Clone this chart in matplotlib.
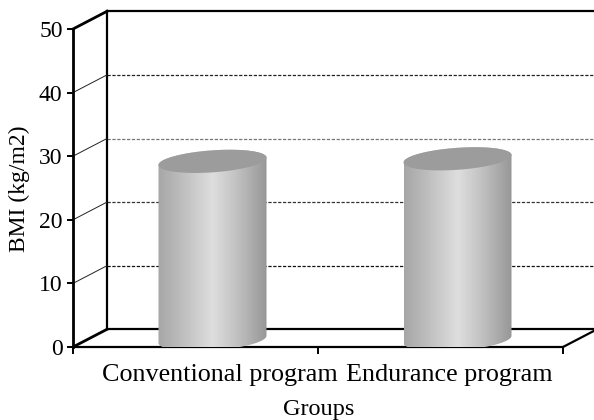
import numpy as np
import matplotlib
matplotlib.use("Agg")
import matplotlib.pyplot as plt
from matplotlib.colors import LinearSegmentedColormap
from matplotlib.patches import Polygon

categories = ["Conventional program", "Endurance program"]
bmi_values = [28.0, 28.4]
y_ticks = [0, 10, 20, 30, 40, 50]
grid_values = [10, 20, 30, 40]
grid_colors = ["#111111", "#333333", "#777777", "#222222"]

W, H = 594, 420
plt.rcParams["font.family"] = ["Liberation Serif", "DejaVu Serif"]
fig = plt.figure(figsize=(W / 100, H / 100), dpi=100)
L, R, T, B = 73, 563, 29, 347
ax = fig.add_axes([L / W, 1 - B / H, (R - L) / W, (B - T) / H])
ax.set_xlim(0, 2)
ax.set_ylim(0, 50)
px = 2 / (R - L)          # data x per pixel
py = 50 / (B - T)         # data y per pixel
dx, dy = 34 * px, 17.7 * py
xmax = dx + 2 + 31 * px

for s in ax.spines.values():
    s.set_visible(False)
ax.patch.set_alpha(0)

# back wall, floor and grid
ax.plot([dx, dx], [dy, 50 + dy], color="k", lw=1.6, clip_on=False, zorder=2)
ax.plot([dx, xmax], [50 + dy, 50 + dy], color="k", lw=1.6, clip_on=False, zorder=2)
ax.plot([dx, xmax], [dy, dy], color="k", lw=1.6, clip_on=False, zorder=2)
for v, c in zip(grid_values, grid_colors):
    ax.plot([dx, xmax], [v + dy, v + dy], color=c, lw=0.9, ls=(0, (2.6, 1.3)),
            clip_on=False, zorder=1)
    ax.plot([0, dx], [v, v + dy], color="#222222", lw=0.7, clip_on=False, zorder=2)

# cylinders
cmap = LinearSegmentedColormap.from_list(
    "cyl", [(0, "#a6a6a6"), (0.2, "#bcbcbc"), (0.5, "#dedede"),
            (0.72, "#c2c2c2"), (1, "#979797")])
a = 54 * px
b = 11 * py
shear = 3.7 * py
t = np.linspace(0, 2 * np.pi, 181)
for i, v in enumerate(bmi_values):
    cx = i + 0.5 + dx / 2
    cy0 = dy / 2 - 0.2
    top = cy0 + v
    ex = cx + a * np.cos(t)
    upper = top + b * np.sin(t) + shear * np.cos(t)
    # body silhouette: lower half of base, then top ellipse edge
    t_low = np.linspace(np.pi, 2 * np.pi, 91)
    bx = cx + a * np.cos(t_low)
    by = cy0 + b * np.sin(t_low) + shear * np.cos(t_low)
    t_up = np.linspace(0, np.pi, 91)
    ux = cx + a * np.cos(t_up)
    uy = top + b * np.sin(t_up) + shear * np.cos(t_up)
    body = Polygon(np.column_stack([np.r_[bx, ux], np.r_[by, uy]]),
                   closed=True, fc="none", ec="none", clip_on=False,
                   transform=ax.transData)
    ax.add_patch(body)
    img = ax.imshow(np.linspace(0, 1, 256)[None, :], cmap=cmap, vmin=0, vmax=1,
                    extent=[cx - a, cx + a, -3, top + b + 3], aspect="auto",
                    zorder=4, clip_on=True)
    img.set_clip_path(body)
    ax.add_patch(Polygon(np.column_stack([ex, upper]), closed=True, fc="#9c9c9c",
                         ec="none", zorder=5, clip_on=False))
ax.set_xlim(0, 2)
ax.set_ylim(0, 50)

# front frame
ax.plot([0, 0], [0, 50], color="k", lw=2.0, clip_on=False, zorder=3)
ax.plot([0, 2], [0, 0], color="k", lw=1.6, clip_on=False, zorder=3)
ax.plot([0, dx], [50, 50 + dy], color="k", lw=2.0, clip_on=False, zorder=3)
ax.plot([0, dx], [0, dy], color="k", lw=2.0, clip_on=False, zorder=3)
ax.plot([2, 2 + dx * 31 / 34], [0, dy * 31 / 34], color="k", lw=1.6, clip_on=False, zorder=3)

ax.set_yticks(y_ticks)
ax.set_yticklabels([str(v) for v in y_ticks], fontsize=17)
ax.set_xticks([0, 1, 2])
ax.set_xticklabels([])
ax.tick_params(axis="y", length=4.5, width=1.4, pad=3, color="k")
ax.tick_params(axis="x", length=5, width=1.4, color="k")
for lab in ax.get_yticklabels():
    lab.set_clip_on(False)

# category labels
for name, xp in zip(categories, [219.5, 449]):
    ax.text((xp - L) * px, (B - 374.5) * py, name, ha="center", va="center",
            fontsize=18.8, clip_on=False)
ax.text((318.5 - L) * px, (B - 410) * py, "Groups", ha="center", va="center",
        fontsize=17.5, clip_on=False)
ax.text((19 - L) * px, (B - 189) * py, "BMI (kg/m2)", ha="center", va="center",
        rotation=90, fontsize=17, clip_on=False)

fig.savefig("out.png", dpi=100)
